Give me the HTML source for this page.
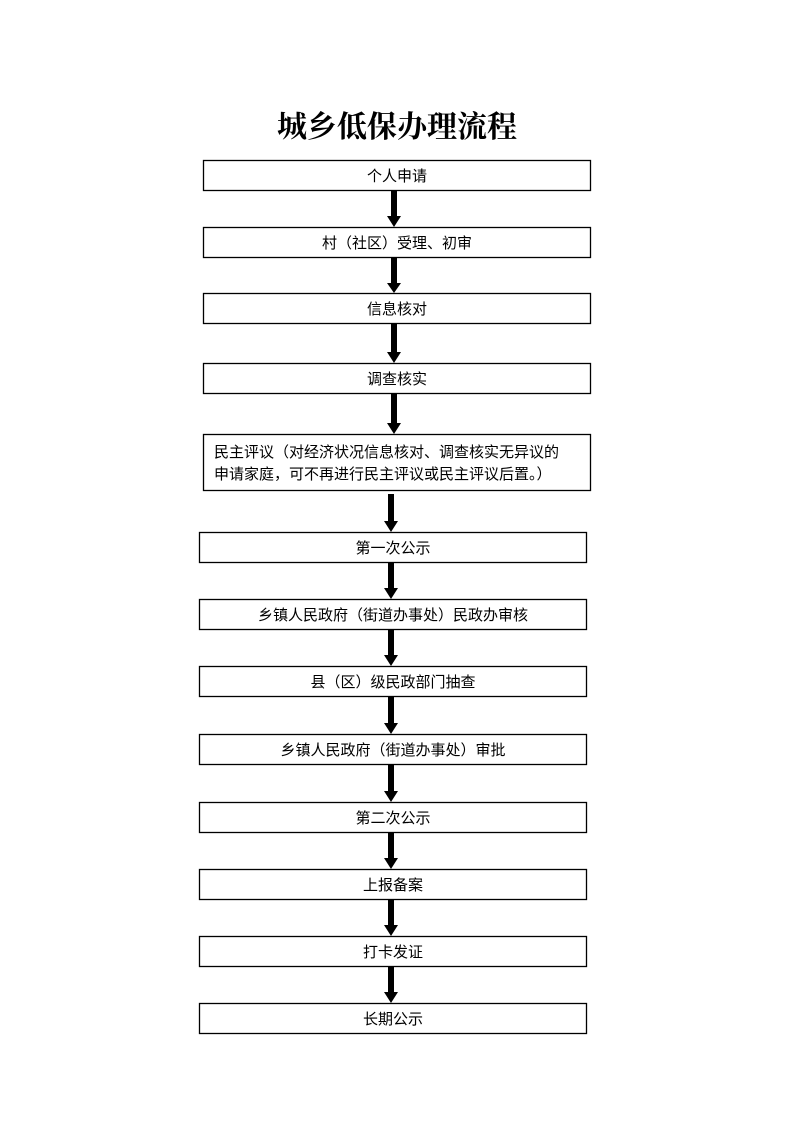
<!DOCTYPE html>
<html><head><meta charset="utf-8"><style>
html,body{margin:0;padding:0;background:#fff}
</style></head><body>
<svg width="793" height="1122" xmlns="http://www.w3.org/2000/svg" font-family="'Liberation Sans','Noto Sans CJK SC',sans-serif">
<text x="397" y="137" text-anchor="middle" font-family="'Liberation Serif','Noto Serif CJK SC',serif" font-weight="bold" font-size="30">城乡低保办理流程</text>
<g fill="#fff" stroke="#000" stroke-width="1.3">
<rect x="203.5" y="160.5" width="387" height="30"/>
<rect x="203.5" y="227.5" width="387" height="30"/>
<rect x="203.5" y="293.5" width="387" height="30"/>
<rect x="203.5" y="363.5" width="387" height="30"/>
<rect x="203.5" y="434.5" width="387" height="56"/>
<rect x="199.5" y="532.5" width="387" height="30"/>
<rect x="199.5" y="599.5" width="387" height="30"/>
<rect x="199.5" y="666.5" width="387" height="30"/>
<rect x="199.5" y="734.5" width="387" height="30"/>
<rect x="199.5" y="802.5" width="387" height="30"/>
<rect x="199.5" y="869.5" width="387" height="30"/>
<rect x="199.5" y="936.5" width="387" height="30"/>
<rect x="199.5" y="1003.5" width="387" height="30"/>
</g>
<g fill="#000">
<polygon points="391,191 397,191 397,216 401,216 394,227 387,216 391,216"/>
<polygon points="391,258 397,258 397,283 401,283 394,293 387,283 391,283"/>
<polygon points="391,324 397,324 397,352 401,352 394,363 387,352 391,352"/>
<polygon points="391,394 397,394 397,423 401,423 394,434 387,423 391,423"/>
<polygon points="388,494 394,494 394,521 398,521 391,532 384,521 388,521"/>
<polygon points="388,563 394,563 394,588 398,588 391,599 384,588 388,588"/>
<polygon points="388,630 394,630 394,655 398,655 391,666 384,655 388,655"/>
<polygon points="388,697 394,697 394,723 398,723 391,734 384,723 388,723"/>
<polygon points="388,765 394,765 394,791 398,791 391,802 384,791 388,791"/>
<polygon points="388,833 394,833 394,858 398,858 391,869 384,858 388,858"/>
<polygon points="388,900 394,900 394,925 398,925 391,936 384,925 388,925"/>
<polygon points="388,967 394,967 394,992 398,992 391,1003 384,992 388,992"/>
</g>
<g font-size="15" text-anchor="middle" fill="#000">
<text x="397" y="181">个人申请</text>
<text x="397" y="248">村（社区）受理、初审</text>
<text x="397" y="314">信息核对</text>
<text x="397" y="384">调查核实</text>
<text x="214" y="457" text-anchor="start">民主评议（对经济状况信息核对、调查核实无异议的</text>
<text x="214" y="479" text-anchor="start">申请家庭，可不再进行民主评议或民主评议后置。）</text>
<text x="393" y="553">第一次公示</text>
<text x="393" y="620">乡镇人民政府（街道办事处）民政办审核</text>
<text x="393" y="687">县（区）级民政部门抽查</text>
<text x="393" y="755">乡镇人民政府（街道办事处）审批</text>
<text x="393" y="823">第二次公示</text>
<text x="393" y="890">上报备案</text>
<text x="393" y="957">打卡发证</text>
<text x="393" y="1024">长期公示</text>
</g>
</svg>
</body></html>
